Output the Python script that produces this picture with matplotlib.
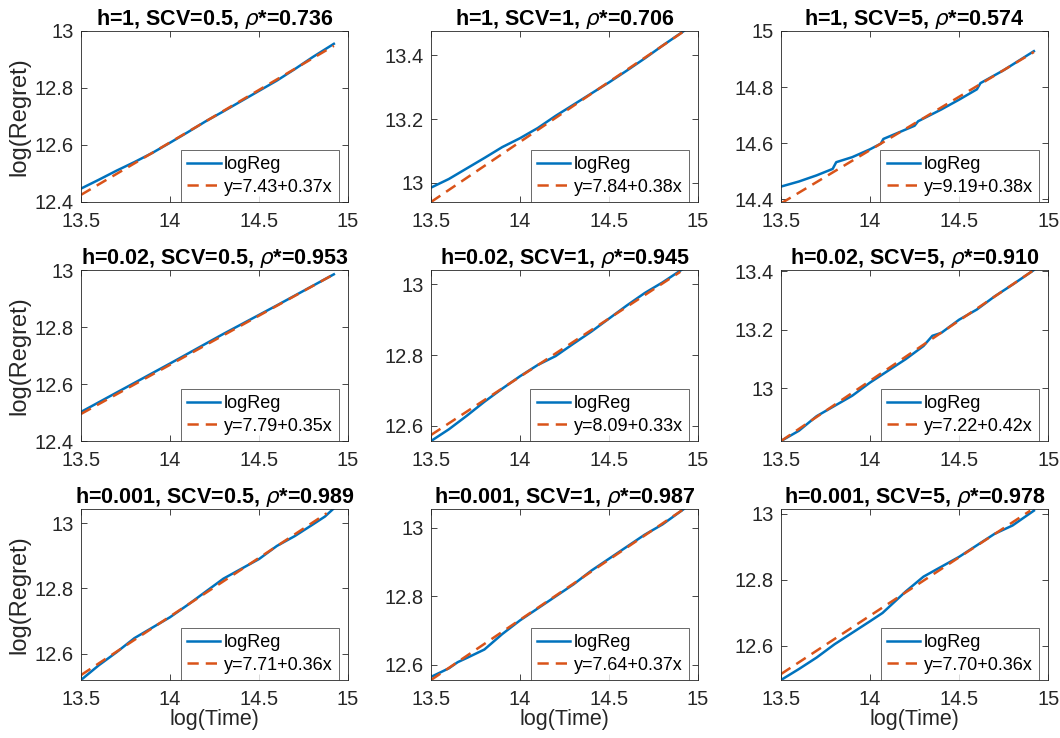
import matplotlib
matplotlib.use("Agg")
import matplotlib.pyplot as plt
from matplotlib.ticker import MultipleLocator, FuncFormatter
import numpy as np

plt.rcParams['font.family'] = ['Liberation Sans', 'DejaVu Sans']

# panel titles and fit labels (row by row)
titles = ['h=1, SCV=0.5, $\\rho$*=0.736', 'h=1, SCV=1, $\\rho$*=0.706', 'h=1, SCV=5, $\\rho$*=0.574',
          'h=0.02, SCV=0.5, $\\rho$*=0.953', 'h=0.02, SCV=1, $\\rho$*=0.945', 'h=0.02, SCV=5, $\\rho$*=0.910',
          'h=0.001, SCV=0.5, $\\rho$*=0.989', 'h=0.001, SCV=1, $\\rho$*=0.987', 'h=0.001, SCV=5, $\\rho$*=0.978']
fit_labels = ['y=7.43+0.37x', 'y=7.84+0.38x', 'y=9.19+0.38x',
              'y=7.79+0.35x', 'y=8.09+0.33x', 'y=7.22+0.42x',
              'y=7.71+0.36x', 'y=7.64+0.37x', 'y=7.70+0.36x']

# logReg curves (log(Time), log(Regret))
x_std = [13.5, 13.6, 13.7, 13.8, 13.9, 14.0, 14.1, 14.2, 14.3, 14.4, 14.5, 14.6, 14.7, 14.8, 14.92]

x1 = x_std
y1 = [12.447, 12.478, 12.510, 12.540, 12.572, 12.608, 12.645, 12.683, 12.718, 12.754, 12.790, 12.826, 12.866, 12.908, 12.955]

x2 = [13.5, 13.6, 13.7, 13.8, 13.85, 13.9, 14.0, 14.1, 14.2, 14.3, 14.4, 14.5, 14.6, 14.7, 14.8, 14.92]
y2 = [12.985, 13.012, 13.045, 13.078, 13.095, 13.112, 13.140, 13.172, 13.21, 13.245, 13.28, 13.315, 13.352, 13.39, 13.43, 13.476]

x3 = [13.5, 13.6, 13.7, 13.79, 13.81, 13.9, 14.0, 14.06, 14.075, 14.15, 14.25, 14.27, 14.4, 14.5, 14.6, 14.62, 14.75, 14.92]
y3 = [14.445, 14.463, 14.485, 14.508, 14.532, 14.55, 14.578, 14.598, 14.615, 14.635, 14.662, 14.678, 14.72, 14.755, 14.792, 14.814, 14.86, 14.928]

x4 = [13.5, 13.7, 14.0, 14.3, 14.6, 14.92]
y4 = [12.502, 12.57, 12.672, 12.776, 12.876, 12.985]

x5 = x_std
y5 = [12.557, 12.59, 12.628, 12.668, 12.705, 12.74, 12.772, 12.797, 12.832, 12.866, 12.903, 12.94, 12.975, 13.005, 13.045]

x6 = [13.5, 13.6, 13.7, 13.8, 13.9, 14.0, 14.1, 14.2, 14.3, 14.35, 14.4, 14.5, 14.6, 14.7, 14.8, 14.92]
y6 = [12.82, 12.855, 12.905, 12.94, 12.975, 13.02, 13.06, 13.10, 13.145, 13.18, 13.19, 13.235, 13.27, 13.315, 13.355, 13.405]

x7 = [13.5, 13.6, 13.7, 13.8, 13.9, 14.0, 14.1, 14.2, 14.3, 14.4, 14.5, 14.6, 14.7, 14.8, 14.87, 14.92]
y7 = [12.52, 12.565, 12.605, 12.648, 12.68, 12.712, 12.75, 12.79, 12.83, 12.86, 12.89, 12.93, 12.96, 12.995, 13.02, 13.045]

x8 = [13.5, 13.6, 13.65, 13.7, 13.8, 13.9, 14.0, 14.1, 14.2, 14.3, 14.4, 14.5, 14.6, 14.7, 14.8, 14.92]
y8 = [12.565, 12.59, 12.608, 12.62, 12.645, 12.69, 12.73, 12.765, 12.8, 12.835, 12.875, 12.91, 12.945, 12.98, 13.01, 13.055]

x9 = [13.5, 13.6, 13.7, 13.8, 13.9, 14.0, 14.07, 14.1, 14.2, 14.3, 14.4, 14.5, 14.6, 14.7, 14.8, 14.92]
y9 = [12.497, 12.53, 12.565, 12.605, 12.64, 12.675, 12.70, 12.715, 12.765, 12.81, 12.84, 12.87, 12.905, 12.94, 12.965, 13.01]

# fitted line end points (x range and y at each end)
fit_x = [[13.5, 14.92]] * 9
fit_y = [[12.425, 12.948], [12.94, 13.475], [14.385, 14.925],
         [12.495, 12.985], [12.574, 13.035], [12.82, 13.405],
         [12.535, 13.03], [12.556, 13.055], [12.515, 13.01]]
fit_x[4] = [13.5, 14.9]
fit_x[6] = [13.5, 14.88]
fit_x[8] = [13.5, 14.9]

ylims = [(12.4, 13.0), (12.94, 13.476), (14.39, 15.0),
         (12.4, 13.0), (12.557, 13.04), (12.82, 13.405),
         (12.52, 13.043), (12.556, 13.055), (12.497, 13.015)]

curves = [(x1, y1), (x2, y2), (x3, y3), (x4, y4), (x5, y5), (x6, y6), (x7, y7), (x8, y8), (x9, y9)]

fig = plt.figure(figsize=(10.6, 7.38), dpi=100)
lefts = [0.0764, 0.4066, 0.7368]
bottoms = [0.7263, 0.4024, 0.0786]
w, h = 0.252, 0.2317

dark = '#262626'
fmt = FuncFormatter(lambda v, p: '%g' % round(v, 3))
for i in range(9):
    r, c = divmod(i, 3)
    ax = fig.add_axes([lefts[c], bottoms[r], w, h])
    xs, ys = curves[i]
    ax.plot(xs, ys, color='#0072BD', lw=1.8, label='logReg')
    ax.plot(fit_x[i], fit_y[i], color='#D95319', lw=1.8, ls=(0, (4.5, 2.8)), label=fit_labels[i])
    ax.set_xlim(13.5, 15)
    ax.set_ylim(*ylims[i])
    ax.set_xticks([13.5, 14, 14.5, 15])
    ax.yaxis.set_major_locator(MultipleLocator(0.2))
    ax.xaxis.set_major_formatter(fmt)
    ax.yaxis.set_major_formatter(fmt)
    ax.tick_params(direction='in', top=True, right=True, labelsize=14.5,
                   colors=dark, length=4, width=0.6)
    ax.tick_params(axis='x', pad=7)
    ax.tick_params(axis='y', pad=5)
    for s in ax.spines.values():
        s.set_color(dark)
        s.set_linewidth(0.6)
    ax.set_title(titles[i], fontsize=15.5, fontweight='bold', pad=4)
    if c == 0:
        ax.set_ylabel('log(Regret)', fontsize=17, color=dark, labelpad=3)
    if r == 2:
        ax.set_xlabel('log(Time)', fontsize=15.5, color=dark, labelpad=0)
    leg = ax.legend(loc='lower right', bbox_to_anchor=(1 - 9 / 267, 0), fontsize=13,
                    frameon=True, fancybox=False, edgecolor=dark, handlelength=1.85,
                    borderaxespad=0, borderpad=0.35, labelspacing=0.3, handletextpad=0.2)
    leg.get_frame().set_linewidth(0.6)

fig.savefig('out.png', dpi=100)
